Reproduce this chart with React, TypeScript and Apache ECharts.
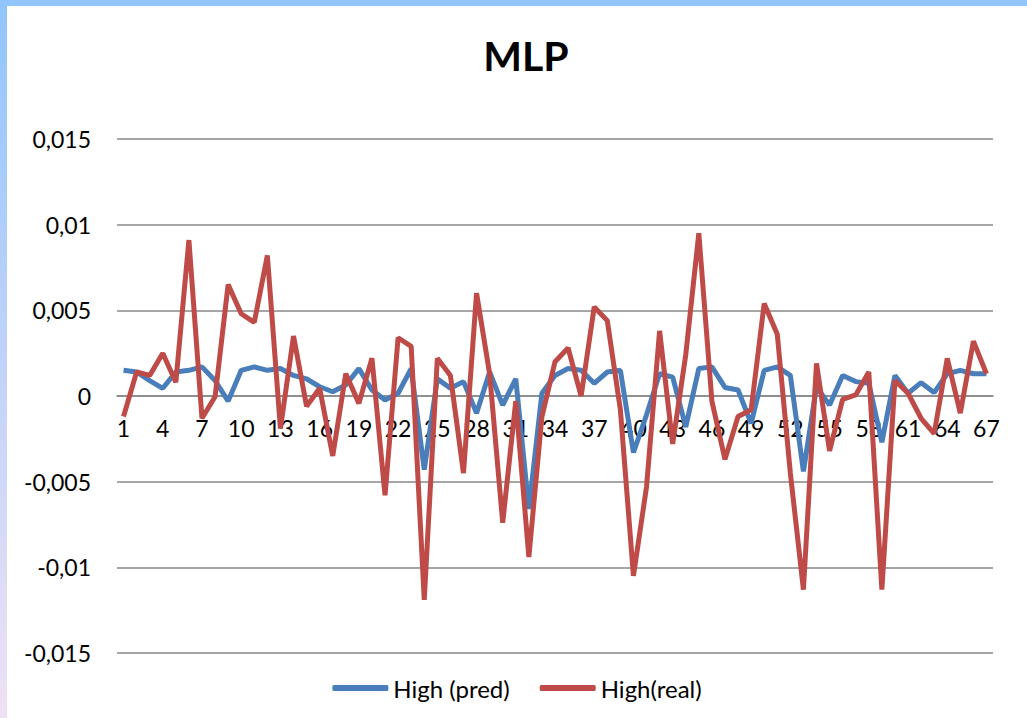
import React, { useEffect, useRef } from "react";
import * as echarts from "echarts";

const categories: string[] = Array.from({ length: 67 }, (_, i) => String(i + 1));

const highPred: number[] = [
  0.0015, 0.0014, 0.0009, 0.00045, 0.0014, 0.0015, 0.0017, 0.0009, -0.0003, 0.0015,
  0.0017, 0.0015, 0.0016, 0.0012, 0.001, 0.00054, 0.00025, 0.00064, 0.0016, 0.00035,
  -0.00023, 0.00016, 0.0016, -0.0043, 0.001, 0.00045, 0.00084, -0.001, 0.0014, -0.00053,
  0.001, -0.0066, 0.00016, 0.0012, 0.0016, 0.0015, 0.00074, 0.0014, 0.0015, -0.0033,
  -0.0011, 0.0013, 0.0011, -0.0018, 0.0016, 0.0017, 0.0005, 0.00035, -0.0016, 0.0015,
  0.0017, 0.0012, -0.0044, 0.00054, -0.00053, 0.0012, 0.00084, 0.00075, -0.0027, 0.0012,
  0.00016, 0.00078, 0.0002, 0.0013, 0.0015, 0.0013, 0.0013,
];

const highReal: number[] = [
  -0.0012, 0.0014, 0.0012, 0.0025, 0.0008, 0.0091, -0.0013, -0.00004, 0.0065, 0.0048,
  0.0043, 0.0082, -0.0019, 0.0035, -0.0006, 0.00045, -0.0035, 0.0013, -0.00043, 0.0022,
  -0.0058, 0.0034, 0.0029, -0.0119, 0.0022, 0.0012, -0.0045, 0.006, 0.0013, -0.0074,
  -0.0003, -0.0094, -0.0012, 0.002, 0.0028, 0.0, 0.0052, 0.0044, -0.0008, -0.0105,
  -0.0053, 0.0038, -0.0028, 0.0024, 0.0095, -0.0003, -0.0037, -0.0012, -0.0008, 0.0054,
  0.0036, -0.0045, -0.0113, 0.0019, -0.0032, -0.0002, 0.00006, 0.0014, -0.0113, 0.0009,
  0.00016, -0.0013, -0.0022, 0.0022, -0.001, 0.0032, 0.0013,
];

const FONT = "Lato, 'Open Sans', sans-serif";
const GRID_TOP = 133;
const GRID_BOTTOM = 65;
const CHART_H = 712;

export default function App() {
  const ref = useRef<HTMLDivElement>(null);
  useEffect(() => {
    if (!ref.current) return;
    const chart = echarts.init(ref.current, undefined, { renderer: "svg" });
    const gridH = CHART_H - GRID_TOP - GRID_BOTTOM;
    chart.setOption({
      animation: false,
      backgroundColor: "#ffffff",
      textStyle: { fontFamily: FONT },
      title: {
        text: "MLP",
        left: 514,
        top: 24,
        textAlign: "center",
        textStyle: { fontSize: 41, fontWeight: "bold", color: "#000", fontFamily: FONT },
      },
      legend: {
        bottom: 13,
        left: "center",
        itemWidth: 56,
        itemHeight: 6,
        itemGap: 30,
        icon: "roundRect",
        textStyle: { fontSize: 24, color: "#000", fontFamily: FONT },
        data: ["High (pred)", "High(real)"],
      },
      grid: { left: 110, right: 34, top: GRID_TOP, bottom: GRID_BOTTOM, containLabel: false },
      xAxis: {
        type: "category",
        data: categories,
        boundaryGap: true,
        position: "bottom",
        offset: -gridH / 2,
        axisLine: { onZero: false, lineStyle: { color: "#888888", width: 1.5 } },
        axisTick: { show: false },
        axisLabel: { interval: 2, fontSize: 23, color: "#000", margin: 20, fontFamily: FONT },
        splitLine: { show: false },
      },
      yAxis: {
        type: "value",
        min: -0.015,
        max: 0.015,
        interval: 0.005,
        axisLine: { show: false },
        axisTick: { show: false },
        axisLabel: {
          fontSize: 23,
          color: "#000",
          margin: 26,
          fontFamily: FONT,
          formatter: (v: number) => {
            const r = Math.round(v * 1000) / 1000;
            return String(r).replace(".", ",");
          },
        },
        splitLine: { lineStyle: { color: "#888888", width: 1.5 } },
      },
      series: [
        {
          name: "High (pred)",
          type: "line",
          data: highPred,
          symbol: "none",
          lineStyle: { color: "#4A7EBB", width: 5 },
          itemStyle: { color: "#4A7EBB" },
        },
        {
          name: "High(real)",
          type: "line",
          data: highReal,
          symbol: "none",
          lineStyle: { color: "#BE4B48", width: 5 },
          itemStyle: { color: "#BE4B48" },
        },
      ],
    });
    return () => chart.dispose();
  }, []);

  return (
    <div
      style={{
        position: "fixed",
        left: 0,
        top: 0,
        width: 1027,
        height: 718,
        background: "linear-gradient(to bottom, #91c5fd, #efe1f4)",
      }}
    >
      <div
        ref={ref}
        style={{ position: "absolute", left: 7, top: 6, width: 1020, height: 712, background: "#fff" }}
      />
    </div>
  );
}
